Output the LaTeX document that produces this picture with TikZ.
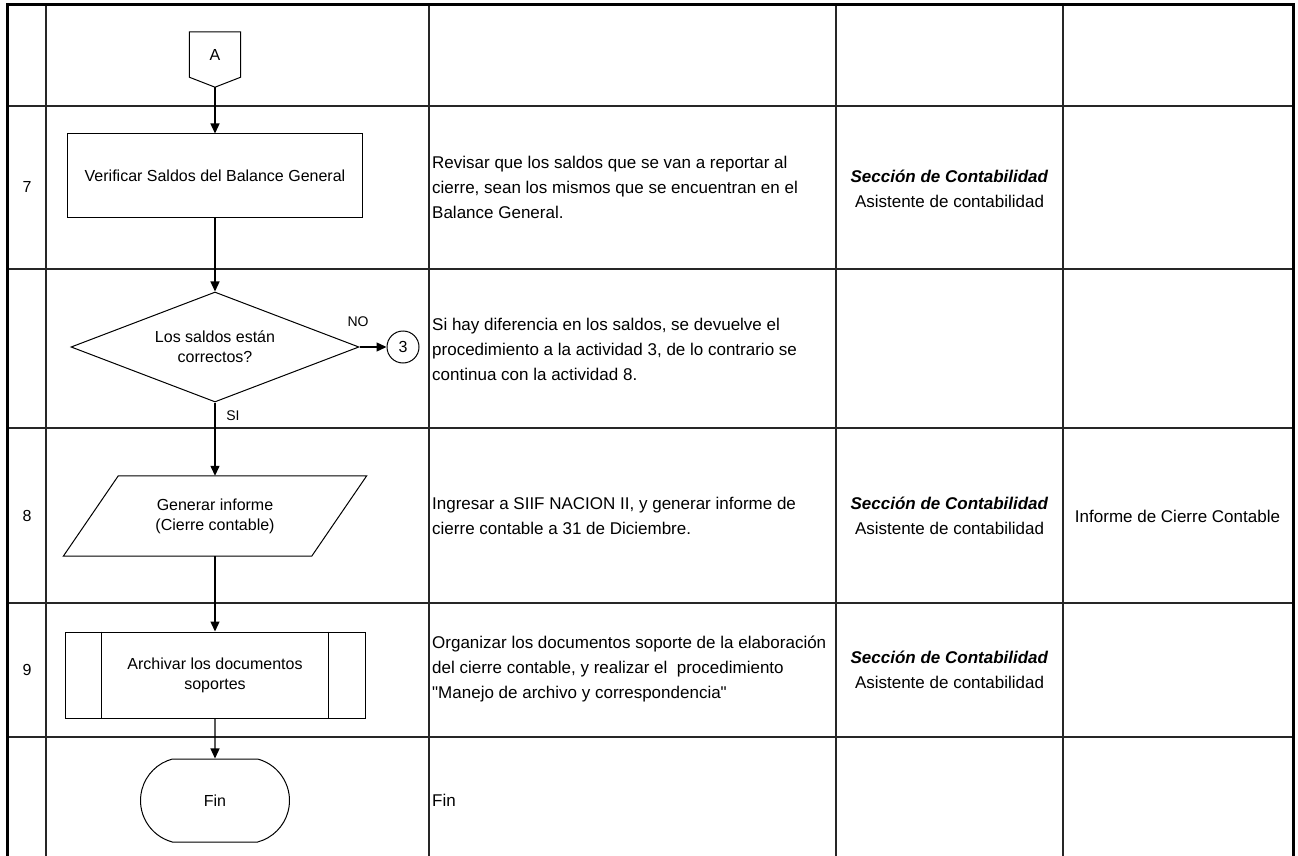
\documentclass[tikz,border=0pt]{standalone}
\usepackage{fontspec}
\setmainfont{Liberation Sans}[Ligatures=TeXOff]
\usetikzlibrary{arrows.meta,positioning,shapes.geometric,shapes.misc,calc}

\begin{document}
\begin{tikzpicture}[
    x=1pt, y=-1pt,
    >={Triangle[length=10pt,width=9pt]},
    grid/.style={line width=1.6pt, black!85},
    border/.style={line width=3pt},
    box/.style={draw, line width=1pt, fill=white, align=center, inner sep=0pt, font=\fontsize{16}{20}\selectfont},
    plain/.style={align=center, inner sep=0pt, font=\fontsize{16}{20}\selectfont},
    flow/.style={->, line width=1.3pt},
    cell/.style={anchor=west, align=left, inner sep=0pt, font=\fontsize{17}{25}\selectfont},
    who/.style={align=center, inner sep=0pt, font=\fontsize{17}{25}\selectfont},
    tag/.style={font=\fontsize{14}{16}\selectfont, inner sep=0pt}
]
\useasboundingbox (0,0) rectangle (1298,856);

% ---- Table grid ----
\foreach \y in {106,269,428,603,737}
    \draw[grid] (7,\y) -- (1293,\y);
\foreach \x in {46,429,836,1063}
    \draw[grid] (\x,5) -- (\x,856);
\draw[border] (7,856) -- (7,5) -- (1293,5) -- (1293,856);

% ---- Activity numbers ----
\node[plain] (n7) at (27,187) {7};
\node[plain] (n8) at (27,516) {8};
\node[plain] (n9) at (27,670) {9};

% ---- Flowchart ----
\node[plain, minimum width=51pt, minimum height=45pt] (conA) at (215,54.5) {A};
\coordinate (Atip) at ($(conA.south)+(0,10)$);
\draw[line width=1pt] (conA.south west) -- (conA.north west) -- (conA.north east)
    -- (conA.south east) -- (Atip) -- cycle;

\node[box, minimum width=295pt, minimum height=83pt] (verif) at (215,175.5) {Verificar Saldos del Balance General};

\node[box, diamond, aspect=2.6, minimum width=288pt, minimum height=110pt] (check) at (215,347) {Los saldos están\\correctos?};
\node[box, circle, minimum size=32pt] (goto) at (403,347) {3};
\node[tag] (no) at (358,322) {NO};
\node[tag] (si) at (233,416) {SI};

\node[plain, minimum width=248pt, minimum height=80pt] (gen) at (215,516) {Generar informe\\(Cierre contable)};
\draw[line width=1pt] ($(gen.north west)+(27.5,0)$) -- ($(gen.north east)+(27.5,0)$)
    -- ($(gen.south east)+(-27.5,0)$) -- ($(gen.south west)+(-27.5,0)$) -- cycle;

\node[box, minimum width=300pt, minimum height=86pt] (arch) at (215,675) {Archivar los documentos\\soportes};
\draw[line width=1pt] ($(arch.north west)+(37,0)$) -- ($(arch.south west)+(37,0)$);
\draw[line width=1pt] ($(arch.north east)+(-37,0)$) -- ($(arch.south east)+(-37,0)$);

\node[box, rounded rectangle, rounded rectangle arc length=150, minimum width=149pt, minimum height=83pt] (fin) at (215,800.5) {Fin};

% ---- Flow arrows ----
\draw[flow] (Atip) -- (verif);
\draw[flow] (verif) -- (check);
\draw[flow] (check) -- (goto);
\draw[flow] (check) -- (gen);
\draw[flow] (gen) -- (arch);
\draw[flow] (arch) -- (fin);

% ---- Descriptions ----
\node[cell] (d7) at (432,187) {Revisar que los saldos que se van a reportar al\\cierre, sean los mismos que se encuentran en el\\Balance General.};
\node[cell] (dchk) at (432,349) {Si hay diferencia en los saldos, se devuelve el\\procedimiento a la actividad 3, de lo contrario se\\continua con la actividad 8.};
\node[cell] (d8) at (432,516) {Ingresar a SIIF NACION II, y generar informe de\\cierre contable a 31 de Diciembre.};
\node[cell] (d9) at (432,669) {Organizar los documentos soporte de la elaboración\\del cierre contable, y realizar el~~procedimiento\\"Manejo de archivo y correspondencia"};
\node[cell] (dfin) at (432,800) {Fin};

% ---- Responsible ----
\node[who] (r7) at (949.5,188.5) {\textbf{\textit{Sección de Contabilidad}}\\Asistente de contabilidad};
\node[who] (r8) at (949.5,516) {\textbf{\textit{Sección de Contabilidad}}\\Asistente de contabilidad};
\node[who] (r9) at (949.5,670) {\textbf{\textit{Sección de Contabilidad}}\\Asistente de contabilidad};

% ---- Records ----
\node[who] (reg8) at (1177.5,516) {Informe de Cierre Contable};

\end{tikzpicture}
\end{document}
